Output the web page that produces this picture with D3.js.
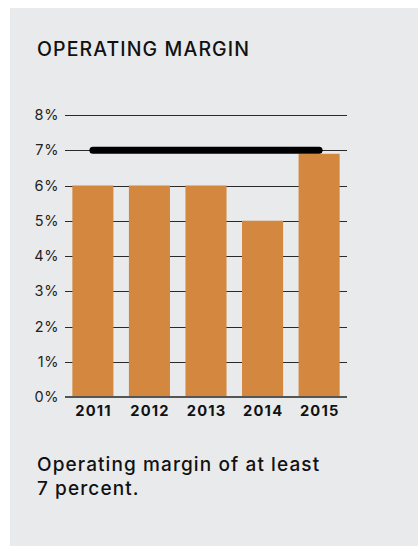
<!DOCTYPE html>
<html>
<head>
<meta charset="utf-8">
<script src="https://cdn.jsdelivr.net/npm/d3@7"></script>
<style>
  html, body { margin: 0; padding: 0; background: #ffffff; }
  svg { display: block; }
</style>
</head>
<body>
<script>
// Operating margin by year, with the 7% target drawn across the bars
const years = ["2011", "2012", "2013", "2014", "2015"];
const margins = [6, 6, 6, 5, 6.9];
const targetMargin = 7;
const tickValues = [0, 1, 2, 3, 4, 5, 6, 7, 8];
const titleText = "OPERATING MARGIN";
const captionLines = ["Operating margin of at least", "7 percent."];

const W = 418, H = 546;
const font = "Inter, 'Noto Sans', sans-serif";

const svg = d3.select("body").append("svg")
  .attr("width", W).attr("height", H);

// panel background
svg.append("rect")
  .attr("x", 10).attr("y", 8)
  .attr("width", W - 10).attr("height", H - 8)
  .attr("fill", "#e9eaec");

svg.append("text")
  .attr("x", 37).attr("y", 56)
  .attr("font-family", font).attr("font-size", 19.5).attr("font-weight", 500)
  .attr("letter-spacing", 1.1)
  .attr("fill", "#111")
  .text(titleText);

const plot = { left: 65, right: 347, top: 115, bottom: 397 };

const x = d3.scaleBand()
  .domain(years)
  .range([plot.left, plot.right])
  .paddingInner(0.274)
  .paddingOuter(0.13);

const y = d3.scaleLinear()
  .domain([0, 8])
  .range([plot.bottom, plot.top]);

// horizontal gridlines with percent labels
const yAxis = d3.axisLeft(y)
  .tickValues(tickValues)
  .tickSize(-(plot.right - plot.left))
  .tickPadding(6)
  .tickFormat(d => d + "%");

const gy = svg.append("g")
  .attr("transform", `translate(${plot.left},0)`)
  .call(yAxis);
gy.select(".domain").remove();
gy.selectAll(".tick line")
  .attr("stroke", "#2a2a2a")
  .attr("stroke-width", 1)
  .attr("shape-rendering", "crispEdges");
gy.selectAll(".tick text")
  .attr("font-family", font).attr("font-size", 14.5)
  .attr("letter-spacing", 0.6)
  .attr("fill", "#222");

// bars
svg.append("g").selectAll("rect")
  .data(years.map((yr, i) => ({ yr, v: margins[i] })))
  .join("rect")
  .attr("x", d => x(d.yr))
  .attr("y", d => y(d.v))
  .attr("width", x.bandwidth())
  .attr("height", d => y(0) - y(d.v))
  .attr("fill", "#d4873f");

// baseline
svg.append("line")
  .attr("x1", plot.left).attr("x2", plot.right)
  .attr("y1", y(0)).attr("y2", y(0))
  .attr("stroke", "#555").attr("stroke-width", 2);

// target line
const cx = d => x(d) + x.bandwidth() / 2;
svg.append("line")
  .attr("x1", cx(years[0])).attr("x2", cx(years[years.length - 1]))
  .attr("y1", y(targetMargin)).attr("y2", y(targetMargin))
  .attr("stroke", "#000").attr("stroke-width", 7)
  .attr("stroke-linecap", "round");

// year labels
const xAxis = d3.axisBottom(x).tickSize(0).tickPadding(9);
const gx = svg.append("g")
  .attr("transform", `translate(0,${plot.bottom})`)
  .call(xAxis);
gx.select(".domain").remove();
gx.selectAll(".tick text")
  .attr("font-family", font).attr("font-size", 14.7).attr("font-weight", 700)
  .attr("letter-spacing", 1.2)
  .attr("dx", 0.6)
  .attr("fill", "#111");

// caption
svg.append("text")
  .attr("font-family", font).attr("font-size", 19).attr("font-weight", 500)
  .attr("letter-spacing", 1.1)
  .attr("fill", "#111")
  .selectAll("tspan")
  .data(captionLines)
  .join("tspan")
  .attr("x", 37)
  .attr("y", (d, i) => 471 + i * 24)
  .text(d => d);
</script>
</body>
</html>
